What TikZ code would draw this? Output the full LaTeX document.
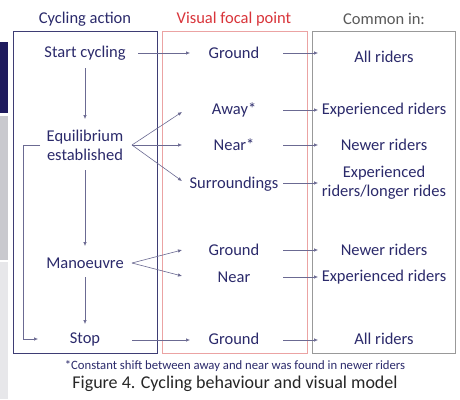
\documentclass[tikz,border=0pt]{standalone}
\usepackage{fontspec}
\setmainfont{Carlito}
\usetikzlibrary{arrows.meta}
\definecolor{navy}{HTML}{2B2A6B}
\definecolor{navybox}{HTML}{3E3D74}
\definecolor{redbox}{HTML}{EBA3A3}
\definecolor{redtxt}{HTML}{D9343A}
\definecolor{greybox}{HTML}{999999}
\definecolor{greytxt}{HTML}{5A5A5A}
\definecolor{lineclr}{HTML}{6B6A92}
\definecolor{bar1}{HTML}{1F1B5E}
\definecolor{bar2}{HTML}{C9C9CE}
\definecolor{bar3}{HTML}{E7E7EA}
\tikzset{
  lbl/.style={text=navy, font=\fontsize{16.5}{19}\selectfont, inner sep=1pt, align=center},
  hdr/.style={font=\fontsize{16.5}{19}\selectfont, inner sep=1pt},
  col/.style={line width=0.8pt},
  conn/.style={draw=lineclr, line width=0.6pt, -{Latex[length=4pt,width=3.5pt]}},
}
\begin{document}
\begin{tikzpicture}[x=1pt,y=-1pt]
\useasboundingbox (0,0) rectangle (460,399);
\fill[white] (0,0) rectangle (460,399);
% side bars
\fill[bar1] (0,42) rectangle (8,113);
\fill[bar2] (0,116) rectangle (8,260);
\fill[bar3] (0,262) rectangle (8,399);
% boxes
\draw[col, draw=navybox] (13,31) rectangle (157,353);
\draw[col, draw=redbox] (162,31) rectangle (307,353);
\draw[col, draw=greybox] (312,31) rectangle (455,353);
% headers
\node[hdr, text=navy] (h1) at (85,19) {Cycling action};
\node[hdr, text=redtxt] (h2) at (234,19) {Visual focal point};
\node[hdr, text=greytxt] (h3) at (384,19) {Common in:};
% column 1
\node[lbl] (start) at (85,53) {Start cycling};
\node[lbl] (equi) at (85,145) {Equilibrium\\established};
\node[lbl] (man) at (85,263) {Manoeuvre};
\node[lbl] (stop) at (85,339) {Stop};
% column 2
\node[lbl] (g1) at (234,53) {Ground};
\node[lbl] (away) at (234,110) {Away*};
\node[lbl] (near1) at (234,145) {Near*};
\node[lbl] (sur) at (234,184) {Surroundings};
\node[lbl] (g2) at (234,250) {Ground};
\node[lbl] (near2) at (234,277) {Near};
\node[lbl] (g3) at (234,339) {Ground};
% column 3
\node[lbl] (c1) at (384,57) {All riders};
\node[lbl] (c2) at (384,110) {Experienced riders};
\node[lbl] (c3) at (384,145) {Newer riders};
\node[lbl] (c4) at (384,183) {Experienced\\riders/longer rides};
\node[lbl] (c5) at (384,250) {Newer riders};
\node[lbl] (c6) at (384,277) {Experienced riders};
\node[lbl] (c7) at (384,339) {All riders};
% coordinates
\coordinate (s1) at (138,53);  \coordinate (t1) at (190,53);
\coordinate (fe) at (132,145);
\coordinate (ta) at (182,112); \coordinate (tn) at (182,145); \coordinate (ts) at (182,181);
\coordinate (fm) at (132,263);
\coordinate (tg2) at (182,250); \coordinate (tn2) at (182,276);
\coordinate (s7) at (132,340); \coordinate (t7) at (190,340);
% col1 to col2
\draw[conn] (s1) -- (t1);
\draw[conn] (fe) -- (ta);
\draw[conn] (fe) -- (tn);
\draw[conn] (fe) -- (ts);
\draw[conn] (fm) -- (tg2);
\draw[conn] (fm) -- (tn2);
\draw[conn] (s7) -- (t7);
% col2 to col3
\coordinate (a1) at (283,53);  \coordinate (b1) at (318,53);
\coordinate (a2) at (283,110); \coordinate (b2) at (318,110);
\coordinate (a3) at (283,145); \coordinate (b3) at (318,145);
\coordinate (a4) at (283,183); \coordinate (b4) at (318,183);
\coordinate (a5) at (283,250); \coordinate (b5) at (318,250);
\coordinate (a6) at (283,277); \coordinate (b6) at (318,277);
\coordinate (a7) at (283,340); \coordinate (b7) at (318,340);
\draw[conn] (a1) -- (b1);
\draw[conn] (a2) -- (b2);
\draw[conn] (a3) -- (b3);
\draw[conn] (a4) -- (b4);
\draw[conn] (a5) -- (b5);
\draw[conn] (a6) -- (b6);
\draw[conn] (a7) -- (b7);
% vertical arrows col1
\coordinate (v1a) at (85,68);  \coordinate (v1b) at (85,119);
\coordinate (v2a) at (85,170); \coordinate (v2b) at (85,246);
\coordinate (v3a) at (85,277); \coordinate (v3b) at (85,324);
\draw[conn] (v1a) -- (v1b);
\draw[conn] (v2a) -- (v2b);
\draw[conn] (v3a) -- (v3b);
% loop
\coordinate (la) at (40,145);
\coordinate (lb) at (38,339);
\draw[conn] (la) -- (23,145) -- (23,339) -- (lb);
% footnote and caption
\node[text=navy, font=\fontsize{12.7}{15}\selectfont, inner sep=0pt] (fn) at (235,366) {*Constant shift between away and near was found in newer riders};
\node[text=black!85, font=\fontsize{18}{21}\selectfont, inner sep=0pt] (cap) at (235,384) {Figure 4. Cycling behaviour and visual model};
\end{tikzpicture}
\end{document}
